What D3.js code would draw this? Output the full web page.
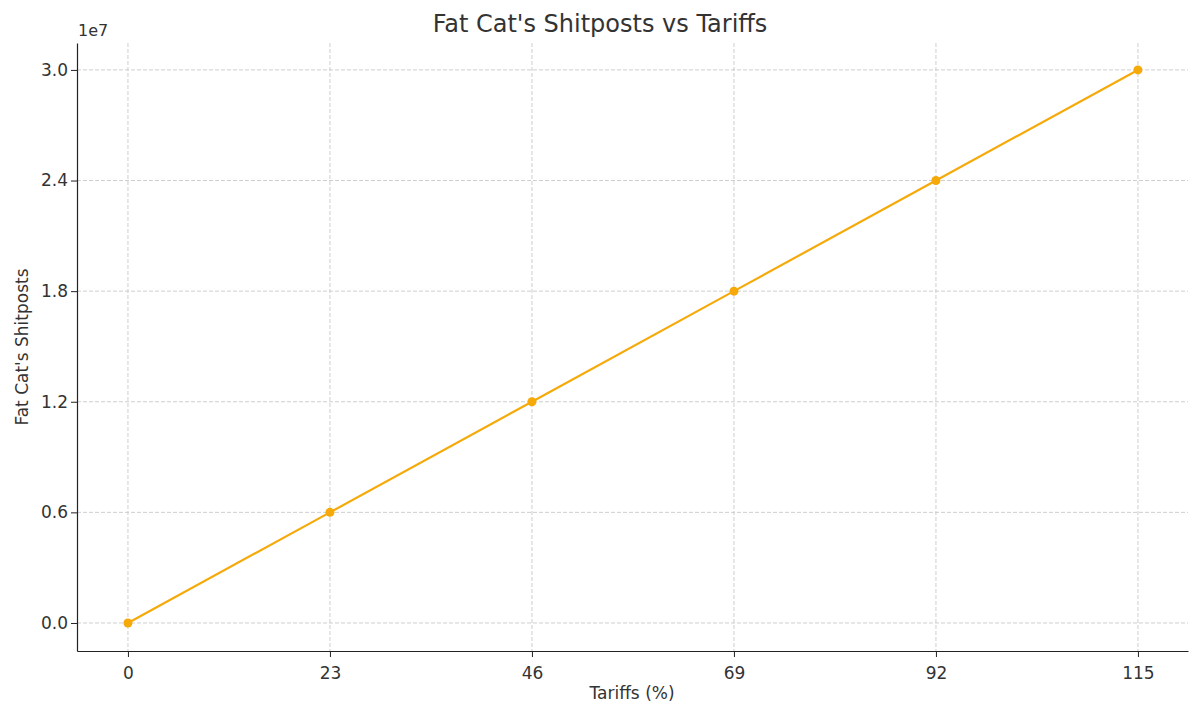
<!DOCTYPE html><html><head><script src="https://cdn.jsdelivr.net/npm/d3@7"></script>
<style>body{margin:0;background:#fff}text{font-family:"DejaVu Sans",sans-serif;fill:#333}</style></head><body>
<svg id="c" width="1200" height="716"></svg>
<script>
const tariffs=[0,23,46,69,92,115];
const shitposts=[0,6e6,12e6,18e6,24e6,30e6];
const yTicks=[0,6e6,12e6,18e6,24e6,30e6];
const yTickLabels=["0.0","0.6","1.2","1.8","2.4","3.0"];
const svg=d3.select("#c");
const x=d3.scaleLinear().domain([-5.8,120.7]).range([77,1188]);
const y=d3.scaleLinear().domain([-1.52e6,31.46e6]).range([651,43]);
const g=svg.append("g");
tariffs.forEach(t=>g.append("line").attr("x1",x(t)).attr("x2",x(t)).attr("y1",43).attr("y2",651).attr("stroke","#c8c8c8").attr("stroke-dasharray","4,2").attr("stroke-width",0.9));
yTicks.forEach(t=>g.append("line").attr("x1",77).attr("x2",1188).attr("y1",y(t)).attr("y2",y(t)).attr("stroke","#c8c8c8").attr("stroke-dasharray","4,2").attr("stroke-width",0.9));
const xa=svg.append("g").attr("transform","translate(0,651)").call(d3.axisBottom(x).tickValues(tariffs).tickSize(6).tickSizeOuter(0).tickFormat(d3.format("d")));
const ya=svg.append("g").attr("transform","translate(77,0)").call(d3.axisLeft(y).tickValues(yTicks).tickSize(6).tickSizeOuter(0).tickFormat((d,i)=>yTickLabels[i]));
[xa,ya].forEach(a=>{a.attr("font-size",null);a.selectAll("text").attr("font-size","17px").style("font-size","17px").attr("fill","#333");a.select(".domain").attr("stroke","#222").attr("stroke-width",1.2);a.selectAll(".tick line").attr("stroke","#222")});
xa.selectAll("text").attr("dy","1.1em");
const line=d3.line().x((d,i)=>x(tariffs[i])).y(d=>y(d));
svg.append("path").datum(shitposts).attr("d",line).attr("fill","none").attr("stroke","#f5aa0a").attr("stroke-width",2.2);
svg.selectAll("circle").data(shitposts).join("circle").attr("cx",(d,i)=>x(tariffs[i])).attr("cy",d=>y(d)).attr("r",4.5).attr("fill","#f5aa0a");
svg.append("text").attr("x",600).attr("y",32).attr("text-anchor","middle").style("font-size","24px").text("Fat Cat's Shitposts vs Tariffs");
svg.append("text").attr("x",632).attr("y",699).attr("text-anchor","middle").style("font-size","17px").text("Tariffs (%)");
svg.append("text").attr("transform","translate(28,347) rotate(-90)").attr("text-anchor","middle").style("font-size","17px").text("Fat Cat's Shitposts");
svg.append("text").attr("x",78).attr("y",36).style("font-size","16px").text("1e7");
</script></body></html>
